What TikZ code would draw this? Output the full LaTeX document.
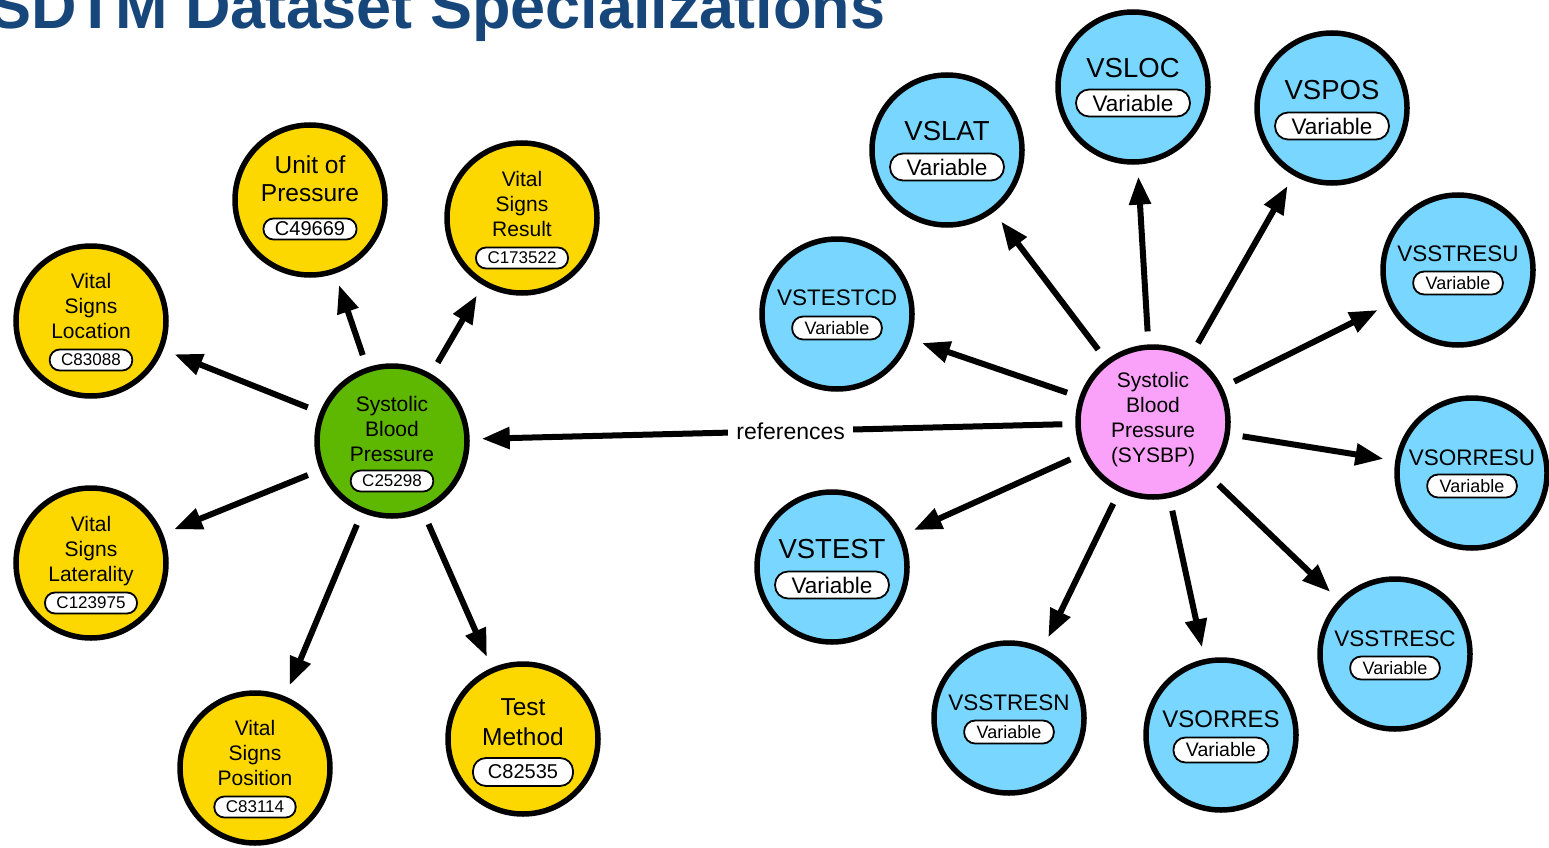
\documentclass[tikz,border=0pt]{standalone}
\usepackage{fontspec}
\setmainfont{Liberation Sans}
\usetikzlibrary{positioning, arrows.meta}
\definecolor{cyellow}{RGB}{253,216,0}
\definecolor{cgreen}{RGB}{94,183,0}
\definecolor{cpink}{RGB}{250,162,250}
\definecolor{cblue}{RGB}{120,214,255}
\definecolor{ctitle}{RGB}{22,70,122}
\newcommand{\fsz}[2]{\fontsize{#1}{#2}\selectfont}
\tikzset{
  cnode/.style={circle, draw, line width=5.5pt, minimum size=150pt, inner sep=0pt},
  ynode/.style={cnode, fill=cyellow},
  gnode/.style={cnode, fill=cgreen},
  pnode/.style={cnode, fill=cpink},
  bnode/.style={cnode, fill=cblue},
  lbl/.style={align=center, inner sep=0pt, text depth=0pt, font=\fsz{21}{25}},
  code/.style={draw, line width=1.8pt, fill=white, rounded corners=10pt, inner xsep=11.5pt,
               inner ysep=0pt, minimum height=21pt, font=\fsz{17}{17}},
  vname/.style={inner sep=0pt, font=\fsz{22.5}{22.5}},
  vnameb/.style={inner sep=0pt, font=\fsz{27.5}{27.5}},
  vpill/.style={code, minimum height=23pt, rounded corners=11pt, inner xsep=12.5pt, font=\fsz{18}{18}},
  vpillb/.style={code, minimum height=27pt, rounded corners=13pt, inner xsep=16.5pt, font=\fsz{22.5}{22.5}},
  arr/.style={-{Triangle[length=28pt, width=21pt]}, line width=6pt, shorten <=13pt, shorten >=12pt},
  reflbl/.style={fill=white, inner xsep=8pt, inner ysep=4pt, font=\fsz{23}{23}},
}
\begin{document}
\begin{tikzpicture}[x=1pt, y=-1pt]
  \useasboundingbox (0,0) rectangle (1549,848);
  \node[anchor=base west, inner sep=0pt, text=ctitle, font=\bfseries\fsz{63}{63}] (title) at (-11,29)
    {SDTM Dataset Specializations};

  % concept side
  \node[gnode](sbp) at (392,441) {};
  \node[code](sbpc) at (392,481) {C25298};
  \node[lbl, above=8pt of sbpc](sbpt) {Systolic\\Blood\\Pressure};

  \node[ynode](cunit) at (310,200) {};
  \node[code, font=\fsz{20}{20}](cunitc) at (310,229) {C49669};
  \node[lbl, font=\fsz{24.5}{28}, above=16pt of cunitc](cunitt) {Unit of\\Pressure};

  \node[ynode](cres) at (522,218) {};
  \node[code](cresc) at (522,258) {C173522};
  \node[lbl, above=10pt of cresc](crest) {Vital\\Signs\\Result};

  \node[ynode](cloc) at (91,321) {};
  \node[code](clocc) at (91,360) {C83088};
  \node[lbl, above=10pt of clocc](cloct) {Vital\\Signs\\Location};

  \node[ynode](clat) at (91,563) {};
  \node[code](clatc) at (91,603) {C123975};
  \node[lbl, above=10pt of clatc](clatt) {Vital\\Signs\\Laterality};

  \node[ynode](cpos) at (255,768) {};
  \node[code](cposc) at (255,807) {C83114};
  \node[lbl, above=10pt of cposc](cpost) {Vital\\Signs\\Position};

  \node[ynode](cmeth) at (523,739) {};
  \node[code, minimum height=28pt, rounded corners=13pt, inner xsep=15pt, font=\fsz{20}{20}](cmethc) at (523,772) {C82535};
  \node[lbl, font=\fsz{24.5}{30}, above=11pt of cmethc](cmetht) {Test\\Method};

  \draw[arr](sbp)--(cunit); \draw[arr](sbp)--(cres); \draw[arr](sbp)--(cloc);
  \draw[arr](sbp)--(clat); \draw[arr](sbp)--(cpos); \draw[arr](sbp)--(cmeth);

  % variable side
  \node[pnode](sysbp) at (1153,422) {};
  \node[lbl, anchor=center](sysbpt) at (1153,417) {Systolic\\Blood\\Pressure\\(SYSBP)};

  \node[bnode](vlat) at (947,150) {};
  \node[vnameb](vlatn) at (947,131) {VSLAT};
  \node[vpillb](vlatp) at (947,167) {Variable};

  \node[bnode](vloc) at (1133,87) {};
  \node[vnameb](vlocn) at (1133,68) {VSLOC};
  \node[vpillb](vlocp) at (1133,103) {Variable};

  \node[bnode](vpos) at (1332,108) {};
  \node[vnameb](vposn) at (1332,90) {VSPOS};
  \node[vpillb](vposp) at (1332,126) {Variable};

  \node[bnode](vtest) at (832,567) {};
  \node[vnameb](vtestn) at (832,549) {VSTEST};
  \node[vpillb](vtestp) at (832,585) {Variable};

  \node[bnode](vtestcd) at (837,314) {};
  \node[vname](vtestcdn) at (837,298) {VSTESTCD};
  \node[vpill](vtestcdp) at (837,328) {Variable};

  \node[bnode](vstresu) at (1458,270) {};
  \node[vname](vstresun) at (1458,254) {VSSTRESU};
  \node[vpill](vstresup) at (1458,283) {Variable};

  \node[bnode](vorresu) at (1472,473) {};
  \node[vname](vorresun) at (1472,458) {VSORRESU};
  \node[vpill](vorresup) at (1472,486) {Variable};

  \node[bnode](vstresc) at (1395,654) {};
  \node[vname](vstrescn) at (1395,639) {VSSTRESC};
  \node[vpill](vstrescp) at (1395,668) {Variable};

  \node[bnode](vorres) at (1221,735) {};
  \node[vname, font=\fsz{24}{24}](vorresn) at (1221,719) {VSORRES};
  \node[vpill, minimum height=25pt, rounded corners=12pt, font=\fsz{19.5}{19.5}](vorresp) at (1221,750) {Variable};

  \node[bnode](vstresn) at (1009,718) {};
  \node[vname](vstresnn) at (1009,703) {VSSTRESN};
  \node[vpill](vstresnp) at (1009,732) {Variable};

  \draw[arr](sysbp)--(vlat); \draw[arr](sysbp)--(vloc); \draw[arr](sysbp)--(vpos);
  \draw[arr](sysbp)--(vstresu); \draw[arr](sysbp)--(vorresu); \draw[arr](sysbp)--(vstresc);
  \draw[arr](sysbp)--(vorres); \draw[arr](sysbp)--(vstresn); \draw[arr](sysbp)--(vtest);
  \draw[arr](sysbp)--(vtestcd);

  \draw[arr](sysbp)-- node[reflbl, pos=0.47](refl){references} (sbp);
\end{tikzpicture}
\end{document}
